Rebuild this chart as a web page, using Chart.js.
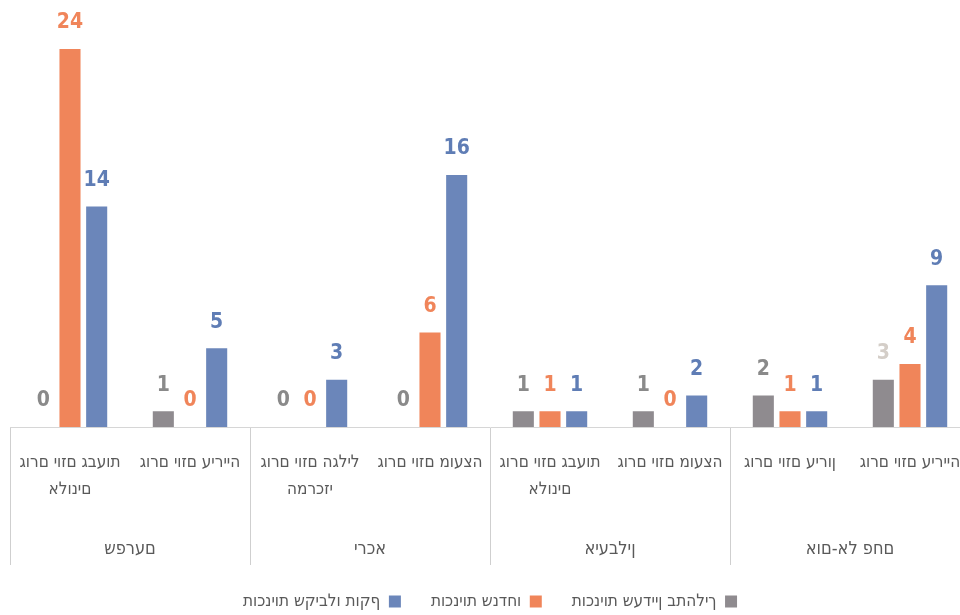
<!DOCTYPE html>
<html><head><meta charset="utf-8">
<script src="https://cdn.jsdelivr.net/npm/chart.js@4.4.0/dist/chart.umd.min.js"></script>
<style>html,body{margin:0;padding:0;overflow:hidden;background:#fff;width:960px;height:615px}</style>
</head><body>
<canvas id="c" width="980" height="615" style="width:980px;height:615px;display:block"></canvas>
<script>
// ---- data ----
const subCategories = [
  ['גורם יוזם גבעות', 'אלונים'],
  'גורם יוזם עירייה',
  ['גורם יוזם הגליל', 'המרכזי'],
  'גורם יוזם מועצה',
  ['גורם יוזם גבעות', 'אלונים'],
  'גורם יוזם מועצה',
  'גורם יוזם עירון',
  'גורם יוזם עירייה'
];
const towns = ['שפרעם', 'ירכא', 'איעבלין', 'אום-אל פחם'];
const seriesNames = ['תוכניות שעדיין בתהליך', 'תוכניות שנדחו', 'תוכניות שקיבלו תוקף'];
const inProcess = [0, 1, 0, 0, 1, 1, 2, 3];
const rejected  = [24, 0, 0, 6, 1, 0, 1, 4];
const approved  = [14, 5, 3, 16, 1, 2, 1, 9];

// ---- styles ----
const FONT = '"Liberation Sans Narrow", "DejaVu Sans Condensed", "Liberation Sans", sans-serif';
const barColors = ['#8f8b8f', '#f0855a', '#6b86ba'];
const labelColors = ['#8a8a8a', '#f0855a', '#5f7db5'];

// the reference shows its Hebrew letters laid out left-to-right;
// a left-to-right override keeps the original strings and reproduces that look
const ltr = s => '\u202D' + s + '\u202C';

const valueLabels = {
  id: 'valueLabels',
  afterDatasetsDraw(chart) {
    const ctx = chart.ctx;
    chart.data.datasets.forEach((ds, di) => {
      const meta = chart.getDatasetMeta(di);
      meta.data.forEach((bar, i) => {
        ctx.save();
        ctx.font = 'bold 21px ' + FONT;
        let col = labelColors[di];
        if (di === 0 && i === 7) col = '#d4cec8';
        ctx.fillStyle = col;
        ctx.textAlign = 'center';
        ctx.textBaseline = 'middle';
        ctx.fillText(String(ds.data[i]), bar.x, bar.y - 26);
        ctx.restore();
      });
    });
  }
};

new Chart(document.getElementById('c'), {
  type: 'bar',
  data: {
    labels: subCategories,
    datasets: [
      { label: seriesNames[0], data: inProcess, backgroundColor: barColors[0], borderWidth: 0 },
      { label: seriesNames[1], data: rejected,  backgroundColor: barColors[1], borderWidth: 0 },
      { label: seriesNames[2], data: approved,  backgroundColor: barColors[2], borderWidth: 0 }
    ]
  },
  options: {
    responsive: false,
    animation: false,
    devicePixelRatio: 1,
    categoryPercentage: 0.667,
    barPercentage: 0.79,
    layout: { padding: { left: 10, right: 10, top: 49, bottom: -5 } },
    scales: {
      y: { display: false, min: 0, max: 24 },
      x: {
        position: 'bottom',
        offset: true,
        grid: {
          offset: true,
          drawOnChartArea: false,
          drawTicks: true,
          tickLength: 138,
          lineWidth: 1,
          color: c => (c.index !== undefined && c.index % 2 === 0) ? '#cfcfcf' : 'rgba(0,0,0,0)'
        },
        border: { display: true, color: '#d6d6d6', width: 1 },
        ticks: {
          autoSkip: false, maxRotation: 0, minRotation: 0,
          padding: -116,
          color: '#595959',
          font: { family: FONT, size: 17, lineHeight: 1.6 },
          callback: function (value) {
            const l = this.getLabelForValue(value);
            return Array.isArray(l) ? l.map(ltr) : ltr(l);
          }
        },
        afterFit: s => { s.height = 70; }
      },
      x2: {
        type: 'category',
        labels: towns,
        position: 'bottom',
        offset: true,
        grid: { display: false },
        border: { display: false },
        ticks: {
          autoSkip: false, maxRotation: 0, minRotation: 0,
          padding: 34,
          color: '#595959',
          font: { family: FONT, size: 18, lineHeight: 1.2 },
          callback: function (value) { return ltr(this.getLabelForValue(value)); }
        },
        afterFit: s => { s.height = 66; }
      }
    },
    plugins: {
      tooltip: { enabled: false },
      legend: {
        position: 'bottom',
        rtl: true,
        labels: {
          boxWidth: 12, boxHeight: 12,
          padding: 30,
          color: '#595959',
          font: { family: FONT, size: 17 },
          generateLabels: chart =>
            Chart.defaults.plugins.legend.labels.generateLabels(chart)
              .map(it => Object.assign(it, { text: ltr(it.text) }))
        }
      }
    }
  },
  plugins: [valueLabels]
});
</script>
</body></html>
